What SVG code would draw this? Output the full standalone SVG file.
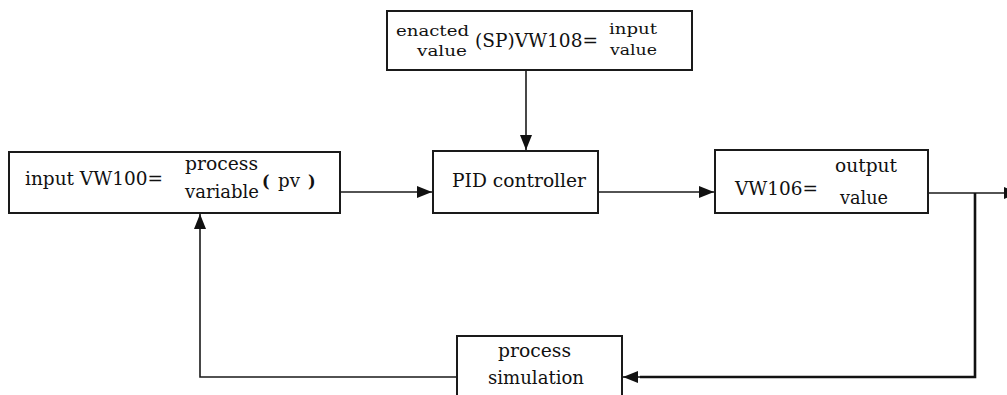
<svg xmlns="http://www.w3.org/2000/svg" width="1007" height="395" viewBox="0 0 1007 395">
  <style>
    .box { fill: #ffffff; stroke: #1a1a1a; stroke-width: 2; }
    .lbl { font-family: "DejaVu Serif", "Liberation Serif", serif; font-size: 18px; fill: #111111; }
    .sm { font-family: "DejaVu Serif", "Liberation Serif", serif; font-size: 15px; fill: #111111; }
    .par { font-family: "DejaVu Serif", "Liberation Serif", serif; font-size: 16px; font-weight: bold; fill: #111111; }
    .wire { fill: none; stroke: #1a1a1a; stroke-width: 1.6; }
    .wire-bold { fill: none; stroke: #111111; stroke-width: 2.6; }
  </style>
  <defs>
    <marker id="arrow" markerUnits="userSpaceOnUse" markerWidth="16" markerHeight="14" refX="15" refY="6" orient="auto">
      <path d="M0,0 L15,6 L0,12 Z" fill="#111111"/>
    </marker>
  </defs>

  <rect width="1007" height="395" fill="#ffffff"/>

  <!-- connectors -->
  <g id="connectors">
    <line class="wire" x1="526" y1="70" x2="526" y2="150" marker-end="url(#arrow)"/>
    <line class="wire" x1="340" y1="192" x2="432" y2="192" marker-end="url(#arrow)"/>
    <line class="wire" x1="598" y1="192" x2="714" y2="192" marker-end="url(#arrow)"/>
    <line class="wire" x1="928" y1="193" x2="1019" y2="193" marker-end="url(#arrow)"/>
    <polyline class="wire-bold" points="975,193 975,377 640,377"/>
    <line class="wire" x1="640" y1="377" x2="623" y2="377" marker-end="url(#arrow)"/>
    <polyline class="wire" points="457,377 200,377 200,214" marker-end="url(#arrow)"/>
  </g>

  <!-- set point -->
  <g id="setpoint">
    <rect class="box" x="387" y="11" width="305" height="59"/>
    <text class="sm" x="396" y="36" textLength="73" lengthAdjust="spacingAndGlyphs">enacted</text>
    <text class="sm" x="417" y="56" textLength="50" lengthAdjust="spacingAndGlyphs">value</text>
    <text class="lbl" x="475" y="47" textLength="123" lengthAdjust="spacingAndGlyphs">(SP)VW108=</text>
    <text class="sm" x="609" y="34" textLength="48" lengthAdjust="spacingAndGlyphs">input</text>
    <text class="sm" x="610" y="55" textLength="47" lengthAdjust="spacingAndGlyphs">value</text>
  </g>

  <!-- process variable -->
  <g id="process-variable">
    <rect class="box" x="9" y="152" width="331" height="61"/>
    <text class="lbl" x="25" y="185" textLength="138" lengthAdjust="spacingAndGlyphs">input VW100=</text>
    <text class="lbl" x="185" y="170" textLength="73" lengthAdjust="spacingAndGlyphs">process</text>
    <text class="lbl" x="185" y="198" textLength="74" lengthAdjust="spacingAndGlyphs">variable</text>
    <text class="par" x="262" y="187">(</text>
    <text class="lbl" x="278" y="187" textLength="22" lengthAdjust="spacingAndGlyphs">pv</text>
    <text class="par" x="308" y="187">)</text>
  </g>

  <!-- controller -->
  <g id="pid-controller">
    <rect class="box" x="433" y="151" width="165" height="62"/>
    <text class="lbl" x="452" y="187" textLength="134" lengthAdjust="spacingAndGlyphs">PID controller</text>
  </g>

  <!-- output -->
  <g id="output">
    <rect class="box" x="715" y="150" width="213" height="63"/>
    <text class="lbl" x="735" y="195" textLength="83" lengthAdjust="spacingAndGlyphs">VW106=</text>
    <text class="lbl" x="835" y="172" textLength="62" lengthAdjust="spacingAndGlyphs">output</text>
    <text class="lbl" x="840" y="204" textLength="48" lengthAdjust="spacingAndGlyphs">value</text>
  </g>

  <!-- process simulation -->
  <g id="process-simulation">
    <rect class="box" x="457" y="336" width="165" height="75"/>
    <text class="lbl" x="498" y="357" textLength="73" lengthAdjust="spacingAndGlyphs">process</text>
    <text class="lbl" x="488" y="384" textLength="96" lengthAdjust="spacingAndGlyphs">simulation</text>
  </g>
</svg>
